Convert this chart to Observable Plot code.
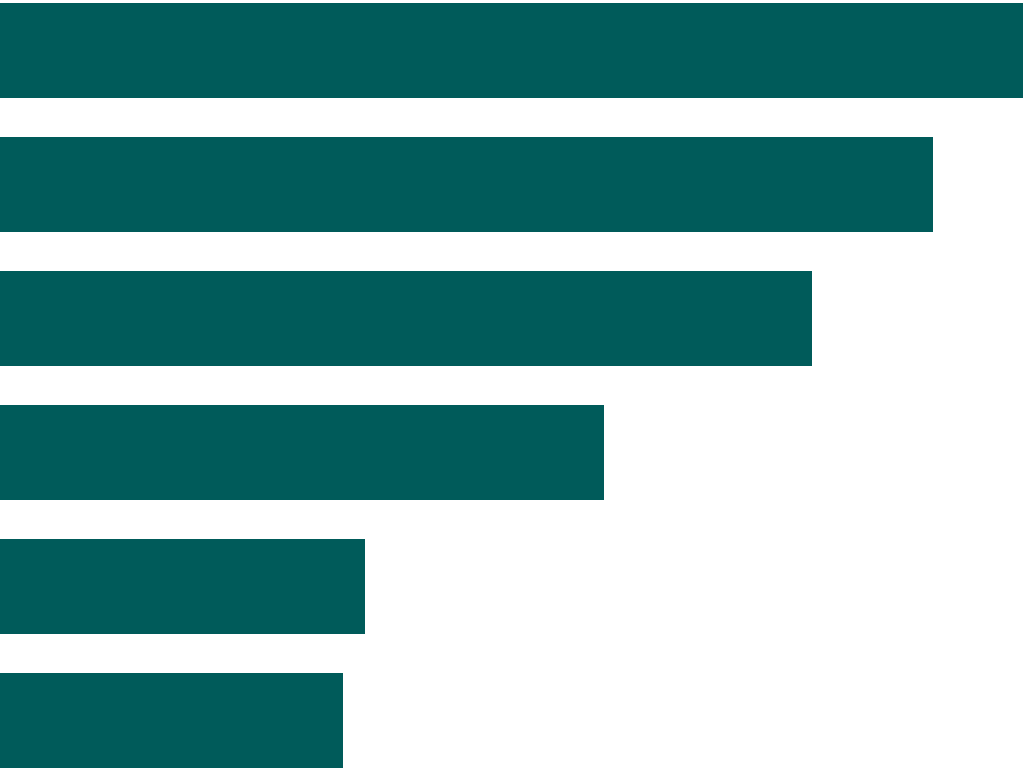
<!DOCTYPE html>
<html>
<head>
<meta charset="utf-8">
<script src="https://cdn.jsdelivr.net/npm/d3@7"></script>
<script src="https://cdn.jsdelivr.net/npm/@observablehq/plot@0.6"></script>
<style>
  html, body { margin: 0; padding: 0; background: #ffffff; overflow: hidden; }
  #chart svg { display: block; }
</style>
</head>
<body>
<div id="chart"></div>
<script>
const categories = ["A", "B", "C", "D", "E", "F"];
const values = [1023, 933, 812, 604, 365, 343];

const data = categories.map((c, i) => ({category: c, value: values[i]}));

const chart = Plot.plot({
  width: 1024,
  height: 770,
  marginTop: 2,
  marginBottom: 1,
  marginLeft: 0,
  marginRight: 0,
  style: {background: "#ffffff"},
  x: {domain: [0, 1024], axis: null},
  y: {domain: categories, padding: 0.29, paddingOuter: 0, axis: null},
  marks: [
    Plot.barX(data, {x: "value", y: "category", fill: "#005B5A"})
  ]
});
document.getElementById("chart").appendChild(chart);
</script>
</body>
</html>
